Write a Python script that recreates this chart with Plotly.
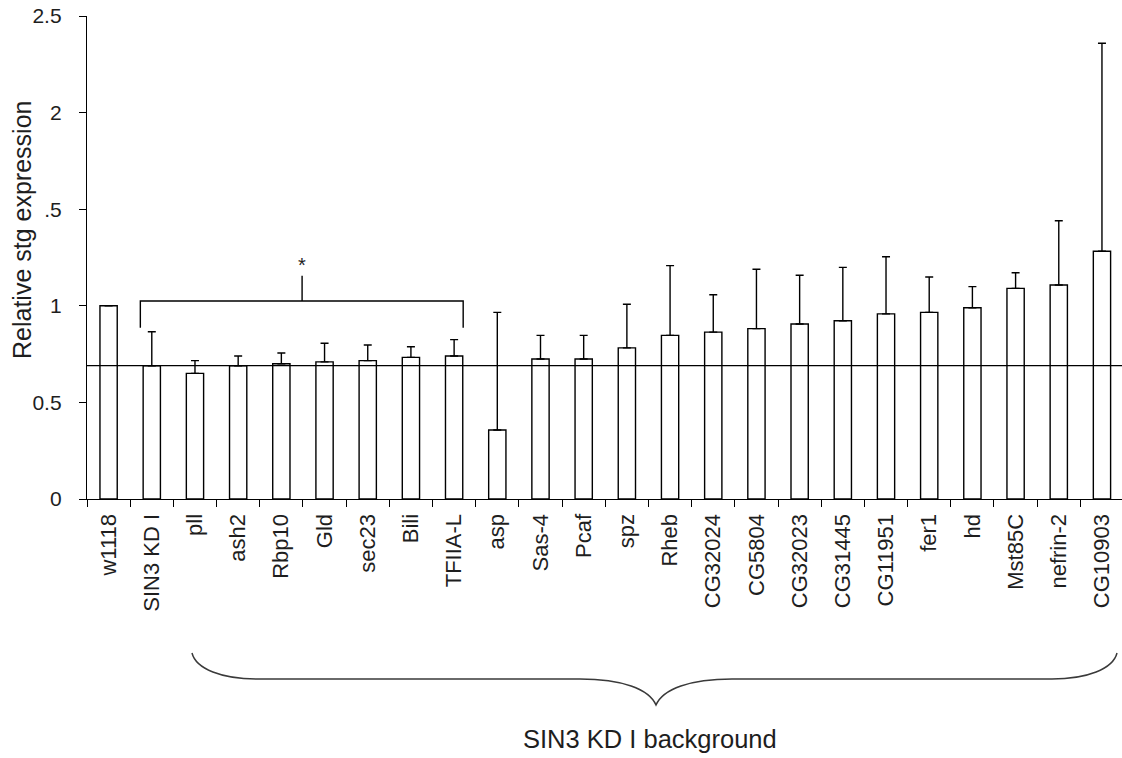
import plotly.graph_objects as go

categories = ["w1118", "SIN3 KD I", "pll", "ash2", "Rbp10", "Gld", "sec23", "Bili",
              "TFIIA-L", "asp", "Sas-4", "Pcaf", "spz", "Rheb", "CG32024", "CG5804",
              "CG32023", "CG31445", "CG11951", "fer1", "hd", "Mst85C", "nefrin-2", "CG10903"]
expression = [1.0, 0.69, 0.65, 0.69, 0.70, 0.71, 0.716, 0.733, 0.74, 0.357, 0.725, 0.725,
              0.782, 0.847, 0.864, 0.882, 0.906, 0.923, 0.958, 0.966, 0.99, 1.09, 1.108, 1.282]
error_up = [0.0, 0.176, 0.066, 0.05, 0.056, 0.096, 0.081, 0.055, 0.085, 0.609, 0.122, 0.122,
            0.226, 0.361, 0.193, 0.307, 0.252, 0.276, 0.296, 0.183, 0.109, 0.081, 0.332, 1.077]
baseline_value = 0.69
y_tick_vals = [0, 0.5, 1, 1.5, 2, 2.5]
y_tick_text = ["0", "0.5", "1", ".5", "2", "2.5"]

W, H = 1122, 758
ML, MR, MT, MB = 87, 0, 16, 259
PW = W - ML - MR
PH = H - MT - MB
x_end = -0.5 + PW / 43.19

def px(x):
    return (x - ML) / PW

def py(y):
    return (H - MB - y) / PH

FONT = "Liberation Sans, Arial, sans-serif"
TXT = "#1e1e1e"

fig = go.Figure()
fig.add_trace(go.Bar(
    x=categories, y=expression, width=0.4,
    marker=dict(color="white", line=dict(color="black", width=1.4)),
    error_y=dict(type="data", symmetric=False, array=error_up,
                 arrayminus=[0] * len(error_up), color="black", thickness=1.4, width=4),
    showlegend=False,
))

shapes = []
# horizontal reference line
shapes.append(dict(type="line", xref="paper", yref="y", x0=0, x1=1,
                   y0=baseline_value, y1=baseline_value,
                   line=dict(color="black", width=1.3)))
# significance bracket
bx0, bx1, bxm = 0.735, 8.21, 4.48
shapes.append(dict(type="path", xref="x", yref="y",
                   path=f"M {bx0},0.887 L {bx0},1.025 L {bx1},1.025 L {bx1},0.887",
                   line=dict(color="black", width=1.4)))
shapes.append(dict(type="line", xref="x", yref="y", x0=bxm, x1=bxm, y0=1.025, y1=1.156,
                   line=dict(color="black", width=1.4)))

# curly brace below labels (pixel -> paper)
pts = [
    ("M", [(192, 653)]),
    ("C", [(196, 669), (222, 679), (257, 679)]),
    ("L", [(580, 679)]),
    ("C", [(622, 679), (649, 689), (656, 705)]),
    ("C", [(663, 689), (690, 679), (732, 679)]),
    ("L", [(1052, 679)]),
    ("C", [(1087, 679), (1113, 669), (1117, 653)]),
]
path = " ".join(c + " " + " ".join(f"{px(a):.5f},{py(b):.5f}" for a, b in p) for c, p in pts)
shapes.append(dict(type="path", xref="paper", yref="paper", path=path,
                   line=dict(color="#3a3a3a", width=1.5)))

annotations = [
    dict(text="*", x=bxm, y=1.145, xref="x", yref="y", showarrow=False,
         xanchor="center", yanchor="bottom", font=dict(size=20, color=TXT, family=FONT)),
    dict(text="Relative stg expression", x=px(22), y=py(230), xref="paper", yref="paper",
         showarrow=False, textangle=-90, xanchor="center", yanchor="middle",
         font=dict(size=25, color=TXT, family=FONT)),
    dict(text="SIN3 KD I background", x=px(650), y=py(739), xref="paper", yref="paper",
         showarrow=False, xanchor="center", yanchor="middle",
         font=dict(size=25.5, color=TXT, family=FONT)),
]

fig.update_layout(
    width=W, height=H,
    margin=dict(l=ML, r=MR, t=MT, b=MB, pad=0),
    paper_bgcolor="white", plot_bgcolor="white",
    shapes=shapes, annotations=annotations,
    bargap=0.6,
    font=dict(family=FONT, color=TXT),
)
fig.update_xaxes(
    type="category", range=[-0.5, x_end], showgrid=False, zeroline=False,
    showline=True, linecolor="black", linewidth=1.3,
    ticks="outside", tickson="boundaries", ticklen=7, tickwidth=1.3, tickcolor="black",
    tickangle=-90, tickfont=dict(size=22, color=TXT, family=FONT), ticklabelstandoff=5,
)
fig.update_yaxes(
    range=[0, 2.5], showgrid=False, zeroline=False,
    showline=True, linecolor="black", linewidth=1.3,
    ticks="outside", ticklen=7, tickwidth=1.3, tickcolor="black",
    tickvals=y_tick_vals, ticktext=y_tick_text,
    tickfont=dict(size=21, color=TXT, family=FONT), ticklabelstandoff=13,
)

fig.write_html("out.html")
